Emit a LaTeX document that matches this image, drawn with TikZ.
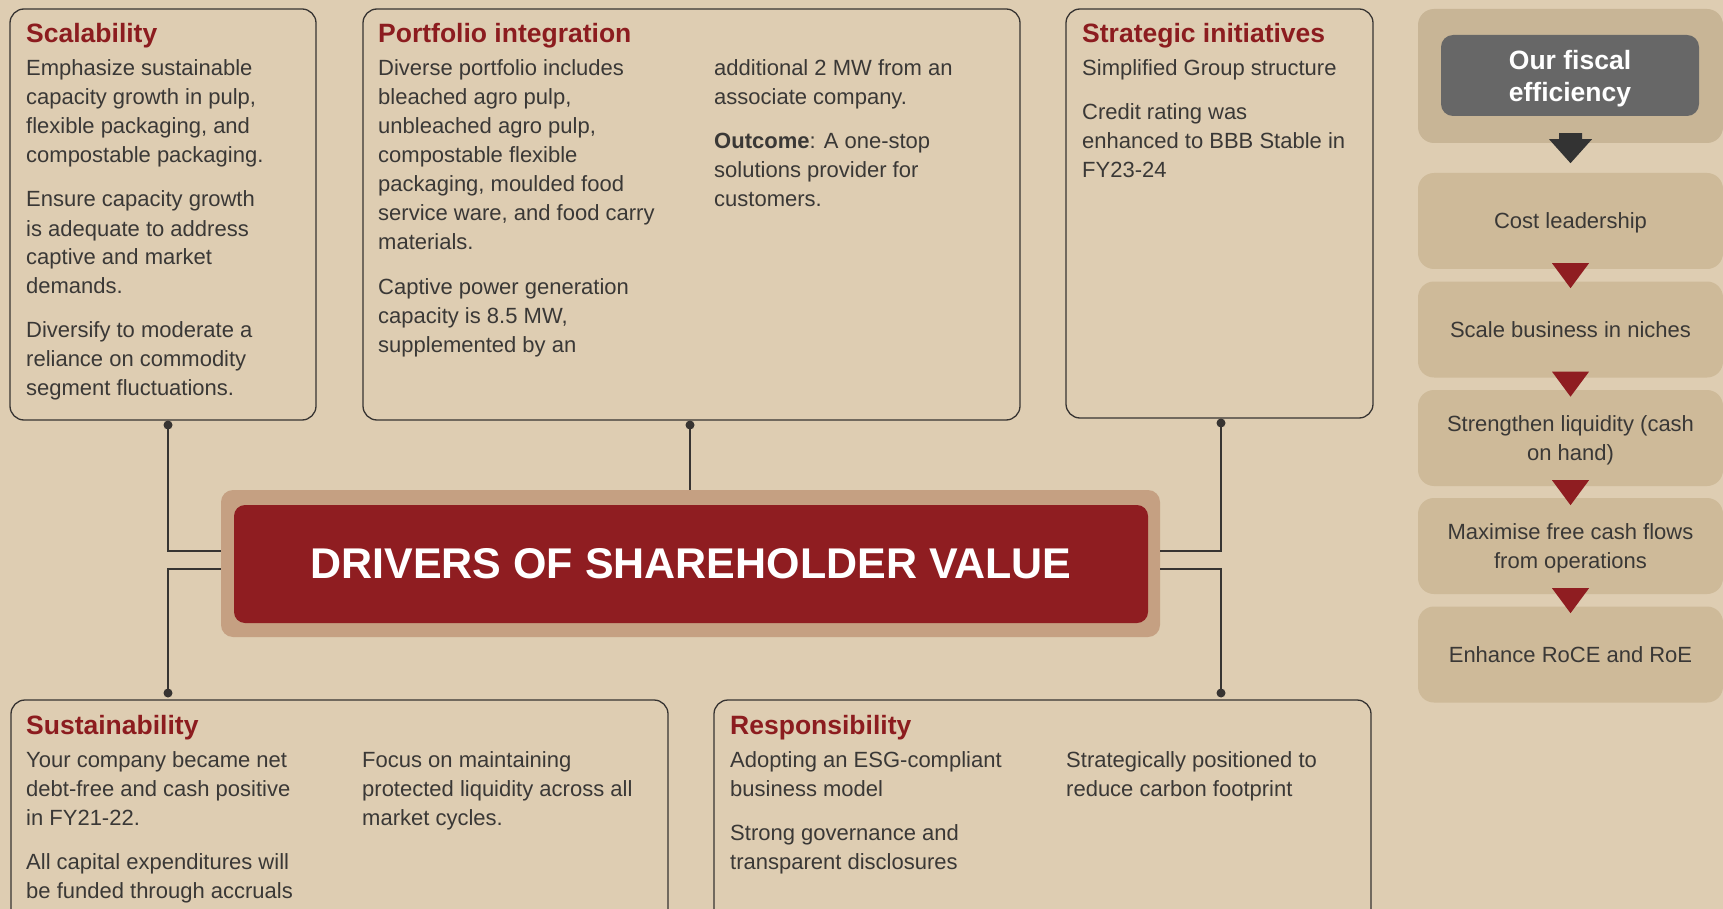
\documentclass[tikz,border=0pt]{standalone}
\usepackage{fontspec}
\setmainfont{Liberation Sans}
\definecolor{bgcol}{RGB}{222,205,178}
\definecolor{boxline}{RGB}{55,52,50}
\definecolor{textdark}{RGB}{58,56,54}
\definecolor{titlered}{RGB}{140,28,31}
\definecolor{hubouter}{RGB}{197,160,130}
\definecolor{hubred}{RGB}{143,29,33}
\definecolor{panelfill}{RGB}{206,186,153}
\definecolor{grpfill}{RGB}{200,181,150}
\definecolor{fiscgray}{RGB}{103,103,103}
\definecolor{arrowdark}{RGB}{51,51,51}
\begin{document}
\begin{tikzpicture}[x=1pt,y=-1pt,
  box/.style={draw=boxline, line width=1.3pt, rounded corners=14pt, inner sep=0pt},
  ttl/.style={anchor=base west, inner sep=0pt, font=\fontsize{26.5}{30}\selectfont\bfseries, text=titlered},
  txt/.style={anchor=base west, align=left, inner sep=0pt, font=\fontsize{22}{29}\selectfont, text=textdark},
  stepbox/.style={fill=panelfill, rounded corners=16pt, inner sep=0pt, minimum width=305pt, minimum height=96pt, align=center, text depth=0pt, font=\fontsize{22}{29}\selectfont, text=textdark},
  conn/.style={draw=boxline, line width=1.2pt},
  dot/.style={circle, fill=boxline, inner sep=0pt, minimum size=9pt},
]
\useasboundingbox (0,0) rectangle (1723,909);
\clip (0,0) rectangle (1723,909);
\fill[bgcol] (0,0) rectangle (1723,909);

% ---------- boxes ----------
\node[box, minimum width=306pt, minimum height=411pt] (scal) at (163,214.5) {};
\node[box, minimum width=657pt, minimum height=411pt] (port) at (691.5,214.5) {};
\node[box, minimum width=307pt, minimum height=409pt] (strat) at (1219.5,213.5) {};
\node[box, minimum width=657pt, minimum height=230pt] (sust) at (339.5,815) {};
\node[box, minimum width=657pt, minimum height=230pt] (resp) at (1042.5,815) {};

% ---------- hub ----------
\node[fill=hubouter, rounded corners=12pt, minimum width=939pt, minimum height=147pt, inner sep=0pt] (hub) at (690.5,563.5) {};
\node[fill=hubred, rounded corners=11pt, minimum width=914pt, minimum height=118pt, inner sep=0pt, text=white, font=\fontsize{43}{48}\selectfont\bfseries] (title) at (691,564) {DRIVERS OF SHAREHOLDER VALUE};

% ---------- connectors ----------
\node[dot] (d1) at (168,425) {};
\node[dot] (d2) at (690,425) {};
\node[dot] (d3) at (1221,423) {};
\node[dot] (d4) at (168,693) {};
\node[dot] (d5) at (1221,693) {};
\draw[conn] (d1.center) |- ([yshift=12.5pt]hub.west);
\draw[conn] ([yshift=-5.5pt]hub.west) -| (d4.center);
\draw[conn] (d2.center) -- (d2.center |- hub.north);
\draw[conn] (d3.center) |- ([yshift=12.5pt]hub.east);
\draw[conn] ([yshift=-5.5pt]hub.east) -| (d5.center);

% ---------- Scalability (anchor = baseline of last line) ----------
\node[ttl] (t1) at (26,43) {Scalability};
\node[txt] (s1a) at (26,163) {Emphasize sustainable\\capacity growth in pulp,\\flexible packaging, and\\compostable packaging.};
\node[txt] (s1b) at (26,294) {Ensure capacity growth\\is adequate to address\\captive and market\\demands.};
\node[txt] (s1c) at (26,395) {Diversify to moderate a\\reliance on commodity\\segment fluctuations.};

% ---------- Portfolio ----------
\node[ttl] (t2) at (378,43) {Portfolio integration};
\node[txt] (p1a) at (378,250) {Diverse portfolio includes\\bleached agro pulp,\\unbleached agro pulp,\\compostable flexible\\packaging, moulded food\\service ware, and food carry\\materials.};
\node[txt] (p1b) at (378,352) {Captive power generation\\capacity is 8.5 MW,\\supplemented by an};
\node[txt] (p2a) at (714,105) {additional 2 MW from an\\associate company.};
\node[txt] (p2b) at (714,207) {\textbf{Outcome}: A one-stop\\solutions provider for\\customers.};

% ---------- Strategic ----------
\node[ttl] (t3) at (1082,43) {Strategic initiatives};
\node[txt] (g1) at (1082,76) {Simplified Group structure};
\node[txt] (g2) at (1082,178) {Credit rating was\\enhanced to BBB Stable in\\FY23-24};

% ---------- Sustainability ----------
\node[ttl] (t4) at (26,734) {Sustainability};
\node[txt] (u1) at (26,825) {Your company became net\\debt-free and cash positive\\in FY21-22.};
\node[txt] (u2) at (26,898) {All capital expenditures will\\be funded through accruals};
\node[txt] (u3) at (362,825) {Focus on maintaining\\protected liquidity across all\\market cycles.};

% ---------- Responsibility ----------
\node[ttl] (t5) at (730,734) {Responsibility};
\node[txt] (r1) at (730,796) {Adopting an ESG-compliant\\business model};
\node[txt] (r2) at (730,869) {Strong governance and\\transparent disclosures};
\node[txt] (r3) at (1066,796) {Strategically positioned to\\reduce carbon footprint};

% ---------- right panel ----------
\node[fill=grpfill, rounded corners=16pt, minimum width=305pt, minimum height=134pt, inner sep=0pt] (grp) at (1570.5,76) {};
\node[fill=fiscgray, rounded corners=12pt, minimum width=258pt, minimum height=81pt, inner sep=0pt, text=white, align=center, text depth=0pt, font=\fontsize{26.5}{32}\selectfont\bfseries] (fisc) at (1570,75.5) {Our fiscal\\efficiency};
\fill[arrowdark] ([xshift=-11.5pt,yshift=10pt]grp.south) -- ([xshift=11.5pt,yshift=10pt]grp.south) -- ([xshift=11.5pt,yshift=4pt]grp.south) -- ([xshift=21.5pt,yshift=4pt]grp.south) -- ([yshift=-20pt]grp.south) -- ([xshift=-21.5pt,yshift=4pt]grp.south) -- ([xshift=-11.5pt,yshift=4pt]grp.south) -- cycle;

\node[stepbox] (st1) at (1570.5,221) {Cost leadership};
\node[stepbox] (st2) at (1570.5,329.5) {Scale business in niches};
\node[stepbox] (st3) at (1570.5,438) {Strengthen liquidity (cash\\on hand)};
\node[stepbox] (st4) at (1570.5,546) {Maximise free cash flows\\from operations};
\node[stepbox] (st5) at (1570.5,654.5) {Enhance RoCE and RoE};
\foreach \s in {st1,st2,st3,st4}{
  \fill[hubred] ([xshift=-18.5pt,yshift=6pt]\s.south) -- ([xshift=18.5pt,yshift=6pt]\s.south) -- ([yshift=-19pt]\s.south) -- cycle;
}
\end{tikzpicture}
\end{document}
